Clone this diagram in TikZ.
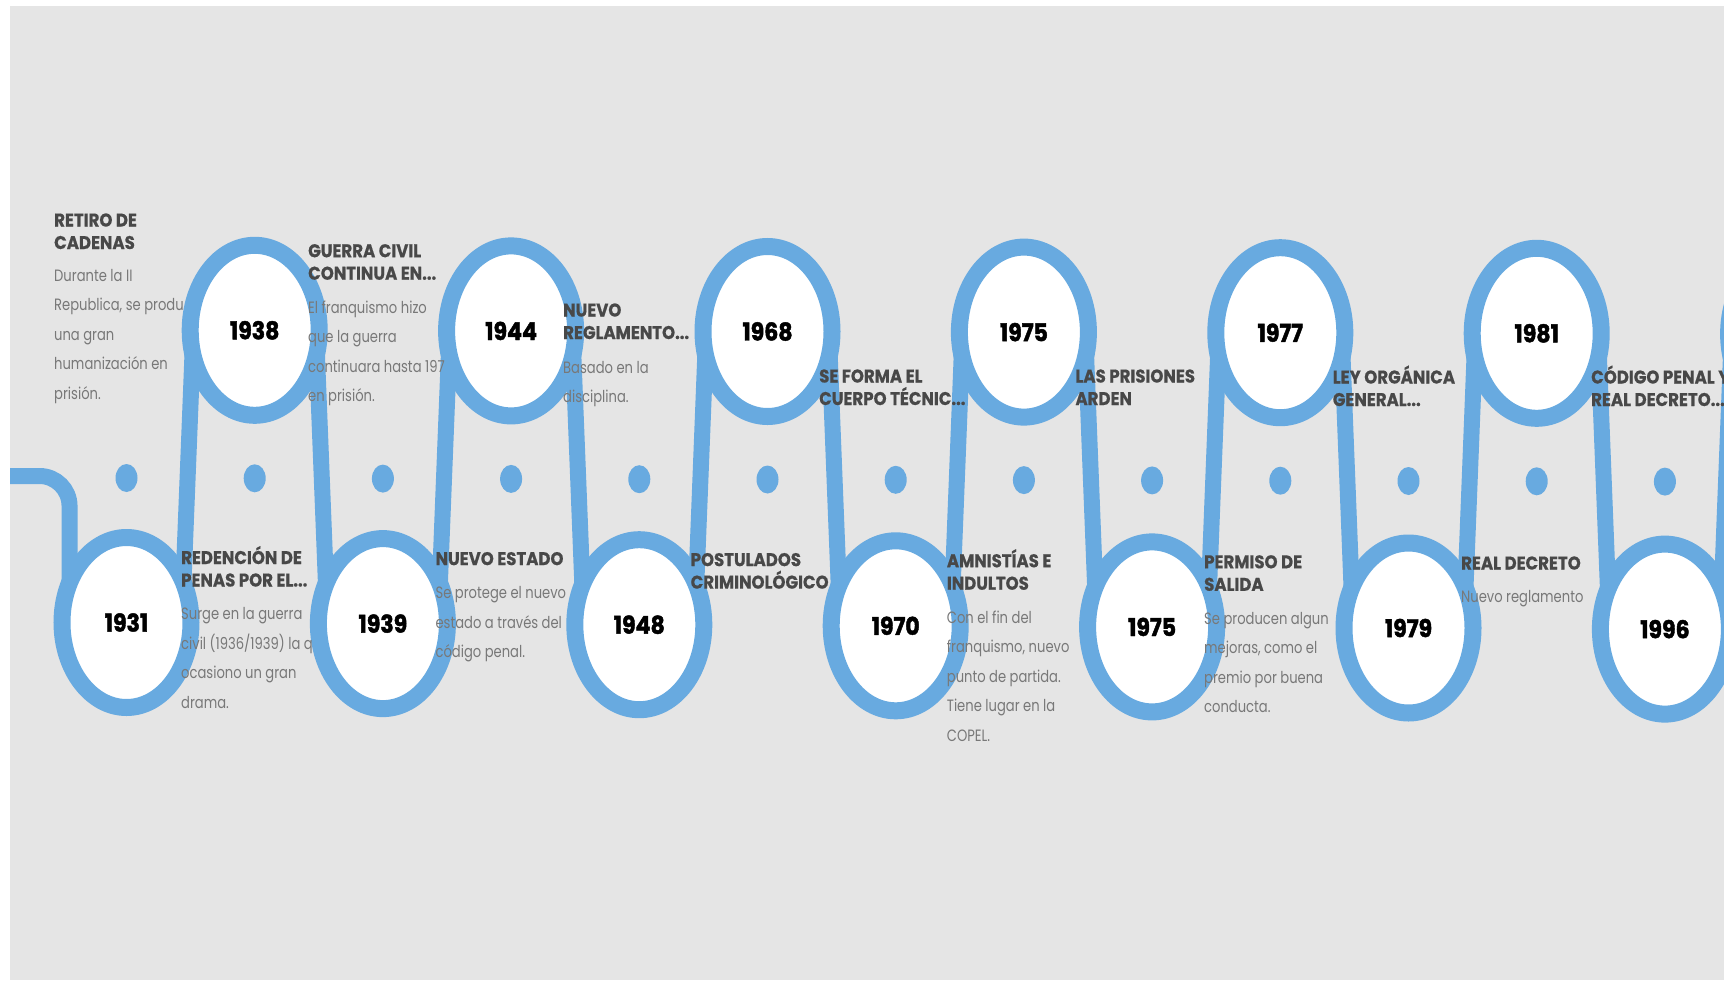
\documentclass[tikz,border=0pt]{standalone}
\usepackage{fontspec}
\setmainfont{Poppins}
\newfontfamily\headfont{Poppins}[FakeStretch=0.9, FakeBold=0.6]
\newfontfamily\bodyfont{Poppins}[FakeStretch=0.8]
\newfontfamily\yearfont{Poppins}[FakeStretch=0.9, FakeBold=1.8]
\usetikzlibrary{shapes.geometric}

\definecolor{ring}{RGB}{104,170,224}
\definecolor{paper}{RGB}{229,229,229}
\definecolor{headgray}{RGB}{72,72,72}
\definecolor{bodygray}{RGB}{120,120,120}

\tikzstyle{year} = [ellipse, draw=ring, fill=white, line width=17pt, minimum width=129pt, minimum height=170pt, inner sep=0pt, outer sep=0pt, font=\yearfont\bfseries\fontsize{24.5}{24.5}\selectfont]
\tikzstyle{dot} = [ellipse, fill=ring, minimum width=22pt, minimum height=28pt, inner sep=0pt]
\tikzstyle{link} = [draw=ring, line width=16pt]
\tikzstyle{head} = [anchor=base west, inner sep=0pt, align=left, text=headgray, font=\headfont\bfseries\fontsize{18.4}{22.5}\selectfont]
\tikzstyle{body} = [anchor=base west, inner sep=0pt, align=left, text=bodygray, font=\bodyfont\fontsize{16.4}{29.6}\selectfont]

\begin{document}
\begin{tikzpicture}[x=1pt, y=1pt]
	\clip (0,0) rectangle (1724,-980);
	\fill[white] (0,0) rectangle (1724,-980);
	\fill[paper] (10,-6) rectangle (1724,-980);

	\node[year] (y1931) at (126.5,-622.5) {1931};
	\node[year] (y1938) at (254.7,-330.3) {1938};
	\node[year] (y1939) at (382.9,-623.6) {1939};
	\node[year] (y1944) at (511.1,-330.9) {1944};
	\node[year] (y1948) at (639.3,-624.7) {1948};
	\node[year] (y1968) at (767.5,-331.5) {1968};
	\node[year] (y1970) at (895.7,-625.8) {1970};
	\node[year] (y1975a) at (1023.9,-332.1) {1975};
	\node[year] (y1975b) at (1152.1,-626.9) {1975};
	\node[year] (y1977) at (1280.3,-332.7) {1977};
	\node[year] (y1979) at (1408.5,-628) {1979};
	\node[year] (y1981) at (1536.7,-333.3) {1981};
	\node[year] (y1996) at (1664.9,-629.1) {1996};
	\node[year] (yend) at (1793.1,-333.9) {};

	\coordinate (lead) at (10,-476);
	\draw[link, rounded corners=30pt] (lead) -- (y1931.145 |- lead) -- (y1931.145);
	\draw[link] (y1938.200) -- (y1931.35);
	\draw[link] (y1938.340) -- (y1939.145);
	\draw[link] (y1944.200) -- (y1939.35);
	\draw[link] (y1944.340) -- (y1948.145);
	\draw[link] (y1968.200) -- (y1948.35);
	\draw[link] (y1968.340) -- (y1970.145);
	\draw[link] (y1975a.200) -- (y1970.35);
	\draw[link] (y1975a.340) -- (y1975b.145);
	\draw[link] (y1977.200) -- (y1975b.35);
	\draw[link] (y1977.340) -- (y1979.145);
	\draw[link] (y1981.200) -- (y1979.35);
	\draw[link] (y1981.340) -- (y1996.145);
	\draw[link] (yend.200) -- (y1996.35);

	\foreach \i in {0,...,12}
		\node[dot] (d\i) at ({126.5+128.2*\i},{-478-0.3*\i}) {};

	\node[head] (tcadenas) at (54,-249) {RETIRO DE\\CADENAS};
	\node[body] (bcadenas) at (54,-399.4) {Durante la II\\Republica, se produ\\una gran\\humanización en\\prisión.};
	\node[head] (tredencion) at (181,-586.5) {REDENCIÓN DE\\PENAS POR EL...};
	\node[body] (bredencion) at (181,-708.4) {Surge en la guerra\\civil (1936/1939) la q\\ocasiono un gran\\drama.};
	\node[head] (tguerra) at (308,-279.7) {GUERRA CIVIL\\CONTINUA EN...};
	\node[body] (bguerra) at (308,-401.8) {El franquismo hizo\\que la guerra\\continuara hasta 197\\en prisión.};
	\node[head] (testado) at (435.4,-565.1) {NUEVO ESTADO};
	\node[body] (bestado) at (435.4,-657.9) {Se protege el nuevo\\estado a través del\\código penal.};
	\node[head] (treglamento) at (563,-339) {NUEVO\\REGLAMENTO...};
	\node[body] (breglamento) at (563,-402.6) {Basado en la\\disciplina.};
	\node[head] (tpostulados) at (690.5,-588.6) {POSTULADOS\\CRIMINOLÓGICO};
	\node[head] (tcuerpo) at (819,-405) {SE FORMA EL\\CUERPO TÉCNIC...};
	\node[head] (tamnistias) at (946.7,-589.7) {AMNISTÍAS E\\INDULTOS};
	\node[body] (bamnistias) at (946.7,-741.4) {Con el fin del\\franquismo, nuevo\\punto de partida.\\Tiene lugar en la\\COPEL.};
	\node[head] (tprisiones) at (1075.3,-405) {LAS PRISIONES\\ARDEN};
	\node[head] (tpermiso) at (1204,-590.8) {PERMISO DE\\SALIDA};
	\node[body] (bpermiso) at (1204,-712.8) {Se producen algun\\mejoras, como el\\premio por buena\\conducta.};
	\node[head] (tley) at (1332.6,-406) {LEY ORGÁNICA\\GENERAL...};
	\node[head] (tdecreto) at (1461,-569.5) {REAL DECRETO};
	\node[body] (bdecreto) at (1461,-602) {Nuevo reglamento};
	\node[head] (tcodigo) at (1591,-406) {CÓDIGO PENAL Y\\REAL DECRETO...};
\end{tikzpicture}
\end{document}
